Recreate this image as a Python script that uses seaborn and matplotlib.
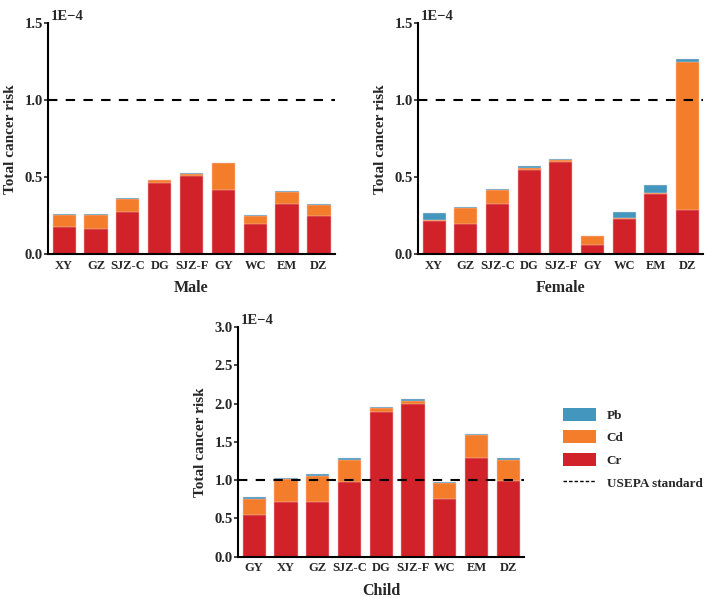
import numpy as np
import pandas as pd
import matplotlib
matplotlib.use("Agg")
import matplotlib.pyplot as plt
from matplotlib.patches import Patch
from matplotlib.lines import Line2D
import seaborn as sns

# values in units of 1E-4
sites_adult = ['XY', 'GZ', 'SJZ-C', 'DG', 'SJZ-F', 'GY', 'WC', 'EM', 'DZ']
sites_child = ['GY', 'XY', 'GZ', 'SJZ-C', 'DG', 'SJZ-F', 'WC', 'EM', 'DZ']

male_cr = [0.175, 0.165, 0.275, 0.465, 0.505, 0.415, 0.195, 0.328, 0.248]
male_cd = [0.077, 0.087, 0.082, 0.015, 0.015, 0.175, 0.055, 0.077, 0.07]
male_pb = [0.008, 0.008, 0.006, 0.005, 0.005, 0.005, 0.005, 0.006, 0.006]

female_cr = [0.215, 0.197, 0.328, 0.55, 0.598, 0.06, 0.228, 0.388, 0.29]
female_cd = [0.008, 0.1, 0.09, 0.013, 0.014, 0.058, 0.005, 0.007, 0.96]
female_pb = [0.047, 0.008, 0.007, 0.007, 0.006, 0.002, 0.042, 0.055, 0.02]

child_cr = [0.55, 0.71, 0.71, 0.97, 1.89, 1.99, 0.76, 1.29, 0.99]
child_cd = [0.21, 0.30, 0.35, 0.30, 0.05, 0.05, 0.205, 0.30, 0.28]
child_pb = [0.015, 0.015, 0.017, 0.015, 0.017, 0.017, 0.017, 0.017, 0.017]

usepa = 1.0

col_pb = '#4397bf'
col_cd = '#f47d2c'
col_cr = '#d12229'

sns.set_style('ticks')
plt.rcParams['font.family'] = ['Liberation Serif', 'DejaVu Serif']
plt.rcParams['font.weight'] = 'bold'
plt.rcParams['axes.labelweight'] = 'bold'


def stacked(ax, sites, cr, cd, pb, ymax, step, xlabel):
    df = pd.DataFrame({'site': sites, 'cr': cr, 'cd': cd, 'pb': pb})
    df['cd_top'] = df['cr'] + df['cd']
    df['pb_top'] = df['cd_top'] + df['pb']
    for col, c in [('pb_top', col_pb), ('cd_top', col_cd), ('cr', col_cr)]:
        sns.barplot(data=df, x='site', y=col, order=sites, color=c, width=0.73,
                    edgecolor='#f3dada', linewidth=0.3, saturation=1, ax=ax)
    ax.axhline(usepa, color='black', lw=1.5, ls=(0, (4.5, 4)), zorder=5)
    ax.set_xlim(-0.5, 8.5)
    ax.set_ylim(0, ymax)
    ax.set_yticks(np.arange(0, ymax + 1e-9, step))
    ax.yaxis.set_major_formatter(matplotlib.ticker.FormatStrFormatter('%.1f'))
    ax.set_xlabel(xlabel, fontsize=11.5, labelpad=6)
    ax.set_ylabel('Total cancer risk', fontsize=11, labelpad=5)
    ax.tick_params(axis='x', length=0, labelsize=9, pad=4)
    ax.tick_params(axis='y', length=3, width=1.2, labelsize=10.5, pad=1)
    for s in ['left', 'bottom']:
        ax.spines[s].set_linewidth(1.5)
        ax.spines[s].set_color('black')
    sns.despine(ax=ax)
    ax.text(0.01, 1.0, '1E\u22124', transform=ax.transAxes, fontsize=10.5,
            fontweight='bold', va='bottom', ha='left')


fig = plt.figure(figsize=(7.2, 5.98), dpi=100)
ax1 = fig.add_axes([0.067, 0.575, 0.398, 0.386])
ax2 = fig.add_axes([0.581, 0.575, 0.396, 0.386])
ax3 = fig.add_axes([0.331, 0.069, 0.397, 0.384])

stacked(ax1, sites_adult, male_cr, male_cd, male_pb, 1.5, 0.5, 'Male')
stacked(ax2, sites_adult, female_cr, female_cd, female_pb, 1.5, 0.5, 'Female')
stacked(ax3, sites_child, child_cr, child_cd, child_pb, 3.0, 0.5, 'Child')

handles = [Patch(facecolor=col_pb, edgecolor='none'),
           Patch(facecolor=col_cd, edgecolor='none'),
           Patch(facecolor=col_cr, edgecolor='none'),
           Line2D([0], [0], color='black', lw=1, ls=(0, (2.5, 1.5)))]
labels = ['Pb', 'Cd', 'Cr', 'USEPA standard']
fig.legend(handles, labels, loc='upper left', bbox_to_anchor=(0.775, 0.327),
           frameon=False, handlelength=2.5, handleheight=1.15,
           labelspacing=0.65, handletextpad=0.8, borderaxespad=0,
           prop={'weight': 'bold', 'size': 9.5})

fig.savefig('out.png', dpi=100)
